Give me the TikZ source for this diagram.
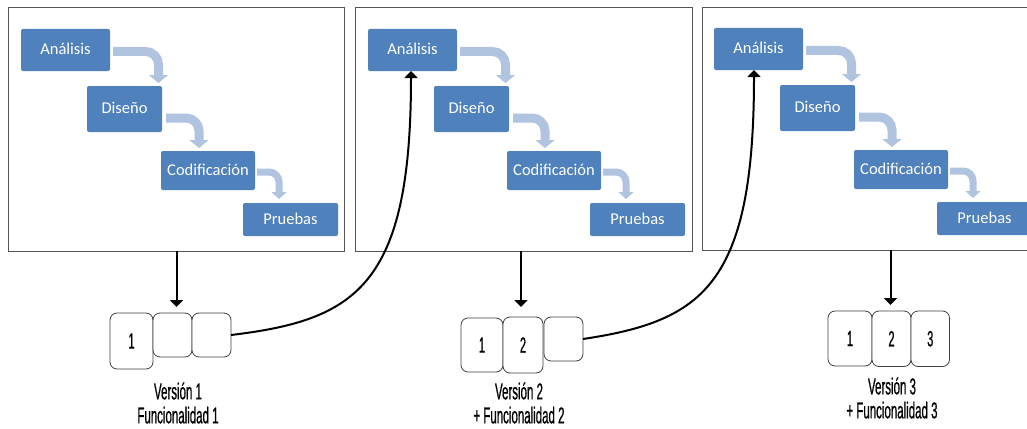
\documentclass[tikz,border=0pt]{standalone}
\usepackage{fontspec}
\setmainfont{Carlito}
\newfontfamily\narrowfont[FakeStretch=0.5,FakeBold=0.6]{Liberation Sans}
\usetikzlibrary{arrows.meta}
\definecolor{boxblue}{HTML}{4F81BD}
\definecolor{bentblue}{HTML}{B0C3DF}
\definecolor{panelgray}{HTML}{555555}
\tikzset{
  panel/.style={draw=panelgray,line width=1pt,fill=white,anchor=north west,inner sep=0pt,outer sep=0pt},
  phase/.style={fill=boxblue,draw=none,rounded corners=2pt,anchor=north west,inner sep=0pt,outer sep=0pt},
  phasetext/.style={text=white,font=\fontsize{16.5}{16.5}\selectfont,inner sep=0pt},
  bent/.style={draw=bentblue,rounded corners=13pt,-{Triangle[width=19pt,length=8pt]},line width=9pt},
  bentsmall/.style={draw=bentblue,rounded corners=10pt,-{Triangle[width=15pt,length=7pt]},line width=7pt},
  cell/.style={draw=black!75,line width=.8pt,fill=white,rounded corners=7pt,anchor=north west,inner sep=0pt,outer sep=0pt,font=\narrowfont\fontsize{22}{22}\selectfont},
  down/.style={black,line width=2pt,-{Triangle[width=13pt,length=7pt]}},
  feed/.style={black,line width=2pt,-{Triangle[width=13pt,length=7pt]}},
  caption/.style={font=\narrowfont\fontsize{23}{24}\selectfont,align=center,inner sep=0pt}
}
\begin{document}
\begin{tikzpicture}[x=1pt,y=-1pt]
\clip (0,0) rectangle (1027,428);
% panels
\node[panel,minimum width=336pt,minimum height=243pt] (p1) at (8.5,8) {};
\node[panel,minimum width=336.5pt,minimum height=243pt] (p2) at (355.5,8) {};
\node[panel,minimum width=340pt,minimum height=242pt] (p3) at (702,8) {};
% phase boxes, panel 1
\node[phase,minimum width=89pt,minimum height=42pt] (a1) at (21,29) {};
\node[phase,minimum width=75pt,minimum height=46pt] (d1) at (87,86) {};
\node[phase,minimum width=94pt,minimum height=39pt] (c1) at (161,151) {};
\node[phase,minimum width=95pt,minimum height=33pt] (t1) at (243,203) {};
% panel 2
\node[phase,minimum width=89pt,minimum height=42pt] (a2) at (368,29) {};
\node[phase,minimum width=75pt,minimum height=46pt] (d2) at (434,86) {};
\node[phase,minimum width=94pt,minimum height=39pt] (c2) at (507,151) {};
\node[phase,minimum width=95pt,minimum height=33pt] (t2) at (590,203) {};
% panel 3
\node[phase,minimum width=89pt,minimum height=42pt] (a3) at (714,28) {};
\node[phase,minimum width=75pt,minimum height=46pt] (d3) at (780,85) {};
\node[phase,minimum width=94pt,minimum height=39pt] (c3) at (854,150) {};
\node[phase,minimum width=95pt,minimum height=33pt] (t3) at (937,202) {};
% labels
\foreach \n in {1,2,3}{
  \node[phasetext] (la\n) at ([yshift=1]a\n.center) {Análisis};
  \node[phasetext] (ld\n) at ([yshift=1]d\n.center) {Diseño};
  \node[phasetext] (lc\n) at ([yshift=1]c\n.center) {Codificación};
  \node[phasetext] (lt\n) at ([yshift=1]t\n.center) {Pruebas};
  \draw[bent] ([shift={(3,1.5)}]a\n.east) -| ([shift={(-3.5,-3)}]d\n.north east);
  \draw[bent] ([shift={(4,9)}]d\n.east) -| ([shift={(-9,-3)}]c\n.north);
  \draw[bentsmall] ([shift={(2,1.5)}]c\n.east) -| ([shift={(36,-4)}]t\n.north west);
}
% version cells
\node[cell,minimum width=43pt,minimum height=56pt] (v1a) at (110,313) {1};
\node[cell,minimum width=39pt,minimum height=44pt] (v1b) at (153,313) {};
\node[cell,minimum width=39pt,minimum height=44pt] (v1c) at (192,313) {};
\node[cell,minimum width=42pt,minimum height=54pt] (v2a) at (461,318) {1};
\node[cell,minimum width=40pt,minimum height=56pt] (v2b) at (503,317) {2};
\node[cell,minimum width=39pt,minimum height=44pt] (v2c) at (544,317) {};
\node[cell,minimum width=44pt,minimum height=55pt] (v3a) at (828,311) {1};
\node[cell,minimum width=39pt,minimum height=55.5pt] (v3b) at (872,311) {2};
\node[cell,minimum width=38.5pt,minimum height=55.5pt] (v3c) at (911,311) {3};
% connectors
\draw[down] (p1.south -| v1b.north) ++(4,0) coordinate (s1) -- (s1 |- 0,307);
\draw[down] (p2.south -| v2b.north) ++(-2,0) coordinate (s2) -- (s2 |- 0,307);
\draw[down] (p3.south -| v3b.north) ++(-1,0) coordinate (s3) -- (s3 |- 0,305);
\draw[feed] (v1c.east) .. controls +(125,-15) and +(0,215) .. ([xshift=-1.5]a2.south);
\draw[feed] (v2c.east) .. controls +(120,-18) and +(0,215) .. ([xshift=-4.5]a3.south);
% captions
\node[caption] (cap1) at (178,403) {Versión 1\\Funcionalidad 1};
\node[caption] (cap2) at (519,403) {Versión 2\\+ Funcionalidad 2};
\node[caption] (cap3) at (892,398) {Versión 3\\+ Funcionalidad 3};
\end{tikzpicture}
\end{document}
